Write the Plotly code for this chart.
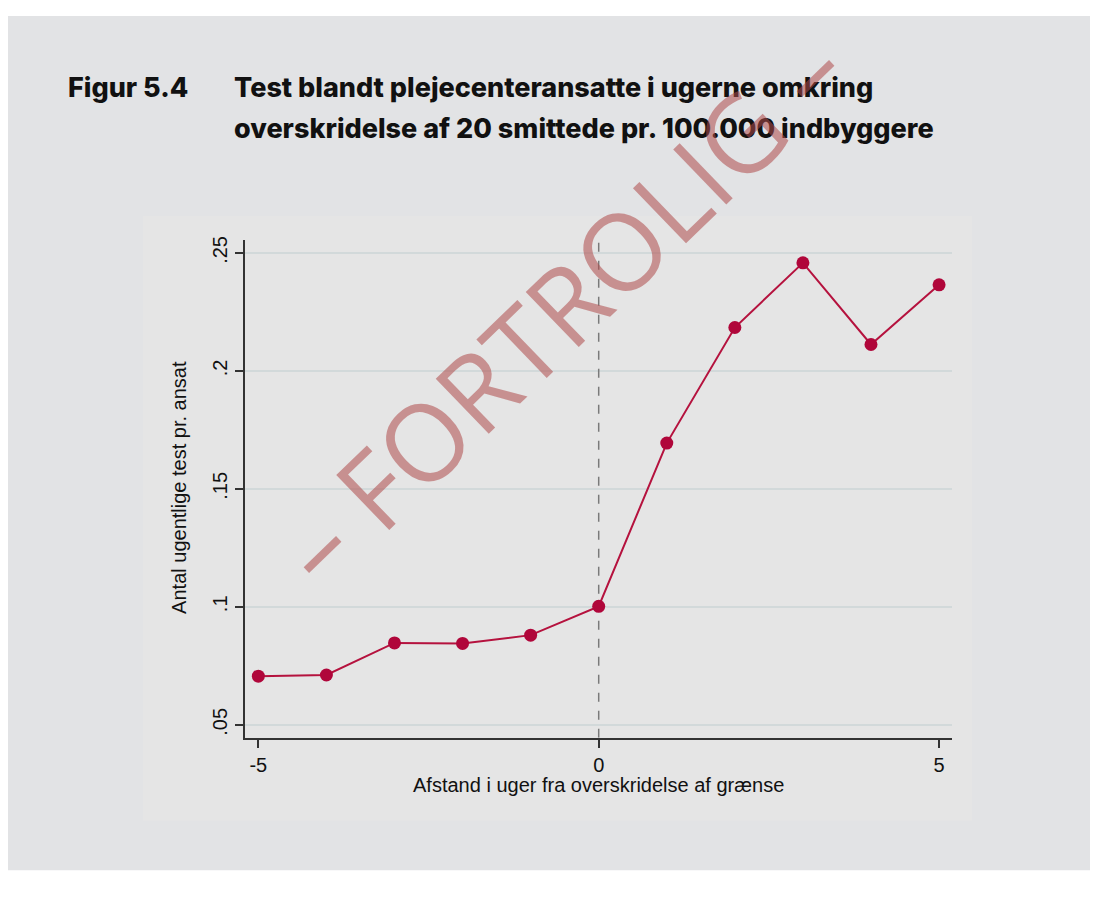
"""
Figur 5.4 - test blandt plejecenteransatte omkring grænseoverskridelse
"""
import plotly.graph_objects as go

# --- data ---
uger = [-5, -4, -3, -2, -1, 0, 1, 2, 3, 4, 5]
test_pr_ansat = [0.0706, 0.0711, 0.0847, 0.0845, 0.0880, 0.1002,
                 0.1694, 0.2184, 0.2458, 0.2112, 0.2365]

x_ticks = [-5, 0, 5]
x_ticklabels = ["-5", "0", "5"]
y_ticks = [0.05, 0.10, 0.15, 0.20, 0.25]
y_ticklabels = [".05", ".1", ".15", ".2", ".25"]

title_label = "Figur 5.4"
title_lines = ["Test blandt plejecenteransatte i ugerne omkring",
               "overskridelse af 20 smittede pr. 100.000 indbyggere"]
x_title = "Afstand i uger fra overskridelse af grænse"
y_title = "Antal ugentlige test pr. ansat"
watermark = "– FORTROLIG –"

W, H = 1098, 902
OFF = 8  # body margin i html-siden


def px(x):
    return (x - OFF) / W


def py(y):
    return 1 - (y - OFF) / H


fig = go.Figure()

# stiplet linje ved 0
fig.add_trace(go.Scatter(
    x=[0, 0], y=[0.0445, 0.2555], mode="lines",
    line=dict(color="#7a7a7a", width=1.5, dash="dash"),
    hoverinfo="skip", showlegend=False,
))

fig.add_trace(go.Scatter(
    x=uger, y=test_pr_ansat, mode="lines+markers",
    line=dict(color="#b5123e", width=2),
    marker=dict(color="#b0063a", size=13),
    showlegend=False,
))

# baggrundsflader
shapes = [
    dict(type="rect", xref="paper", yref="paper", layer="below",
         x0=px(6), x1=px(1090), y0=py(870), y1=py(12),
         fillcolor="#e2e3e5", line_width=0),
    dict(type="rect", xref="paper", yref="paper", layer="below",
         x0=px(143), x1=px(972), y0=py(820), y1=py(213),
         fillcolor="#e5e5e5", line_width=0),
]

title_font = dict(family="Inter", size=27, color="#111111", weight=800)
axis_font = dict(family="Liberation Sans", size=20, color="#111111")

annotations = [
    dict(text=title_label, xref="paper", yref="paper",
         x=px(66), y=py(84), xanchor="left", yanchor="middle", showarrow=False,
         font=title_font),
    dict(text=title_lines[0], xref="paper", yref="paper",
         x=px(232), y=py(84), xanchor="left", yanchor="middle", showarrow=False,
         font=title_font),
    dict(text=title_lines[1], xref="paper", yref="paper",
         x=px(232), y=py(125), xanchor="left", yanchor="middle", showarrow=False,
         font=title_font),
    dict(text=x_title, xref="paper", yref="paper",
         x=px(598), y=py(784), xanchor="center", yanchor="middle", showarrow=False,
         font=axis_font),
    dict(text=y_title, xref="paper", yref="paper", textangle=-90,
         x=px(179), y=py(486), xanchor="center", yanchor="middle", showarrow=False,
         font=axis_font),
    # vandmærke
    dict(text=watermark, xref="paper", yref="paper", textangle=-44,
         x=px(560), y=py(305), xanchor="center", yanchor="middle", showarrow=False,
         font=dict(family="Open Sans", size=107, color="rgba(175,75,75,0.55)")),
]

fig.update_layout(
    width=W, height=H,
    margin=dict(l=0, r=0, t=0, b=0),
    paper_bgcolor="white",
    plot_bgcolor="rgba(0,0,0,0)",
    shapes=shapes,
    annotations=annotations,
    xaxis=dict(
        domain=[px(245), px(952)], range=[-5.196, 5.19],
        tickmode="array", tickvals=x_ticks, ticktext=x_ticklabels,
        ticks="outside", ticklen=8, tickwidth=1.5, tickcolor="#333333",
        showline=True, linecolor="#333333", linewidth=1.5,
        showgrid=False, zeroline=False,
        tickfont=axis_font,
    ),
    yaxis=dict(
        domain=[py(737), py(237)], range=[0.0445, 0.2555],
        tickmode="array", tickvals=y_ticks, ticktext=y_ticklabels,
        tickangle=-90,
        ticks="outside", ticklen=8, tickwidth=1.5, tickcolor="#333333",
        showline=True, linecolor="#333333", linewidth=1.5,
        showgrid=True, gridcolor="#d2d9da", gridwidth=1.5, zeroline=False,
        tickfont=axis_font,
    ),
)

fig.write_html("out.html")
